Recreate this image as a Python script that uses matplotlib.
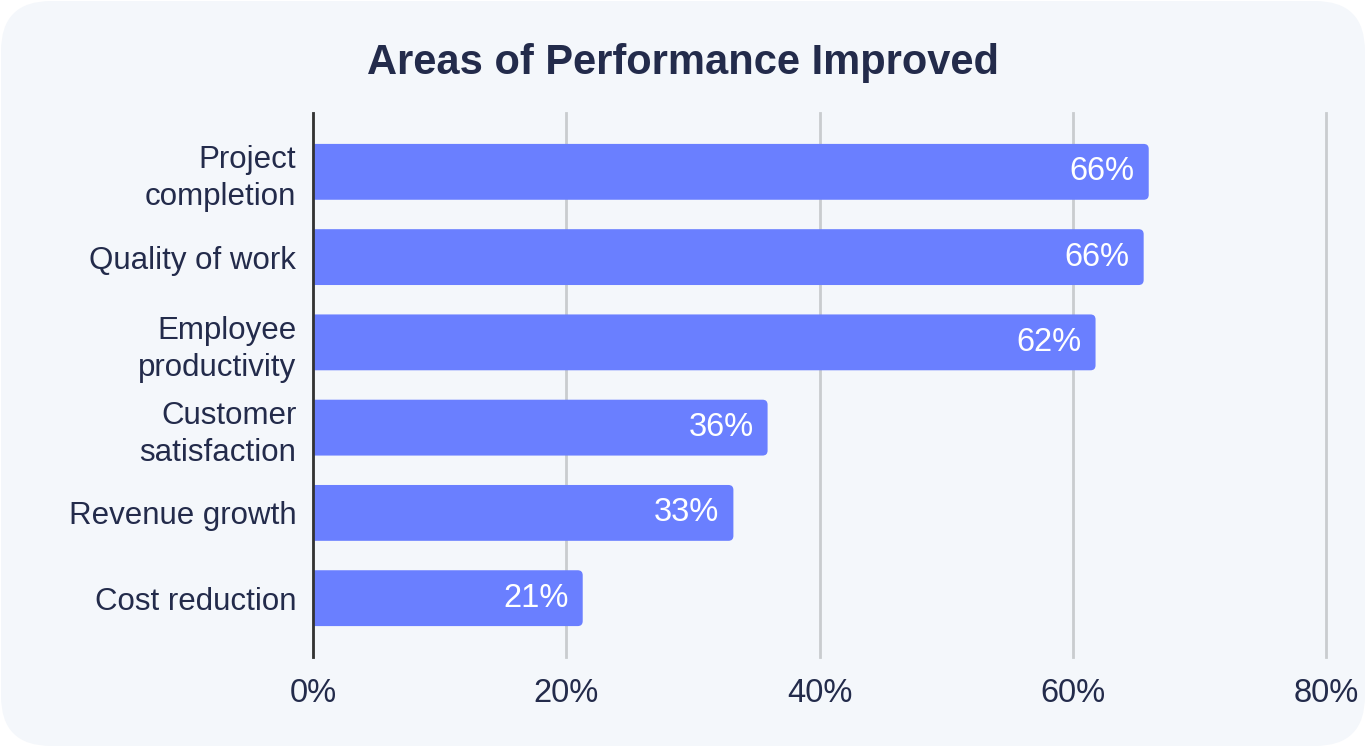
import matplotlib.pyplot as plt
from matplotlib.patches import FancyBboxPatch
import numpy as np

# data
categories = ['Project\ncompletion', 'Quality of work', 'Employee\nproductivity',
              'Customer\nsatisfaction', 'Revenue growth', 'Cost reduction']
values = [66.0, 65.6, 61.8, 35.9, 33.2, 21.3]
labels = ['66%', '66%', '62%', '36%', '33%', '21%']
ticks = [0, 20, 40, 60, 80]

navy = '#232B4B'
bar_color = '#6A7FFF'
bg = '#F4F7FB'

plt.rcParams['font.family'] = ['Liberation Sans', 'DejaVu Sans']

fig = plt.figure(figsize=(13.66, 7.47), dpi=100)
fig.patch.set_facecolor('white')

# rounded panel behind everything
W, H = 1366, 747
panel = FancyBboxPatch((1 / W, 1 / H), 1 - 2 / W, 1 - 2 / H,
                       boxstyle='round,pad=0,rounding_size=%f' % (50 / W),
                       mutation_aspect=W / H, transform=fig.transFigure,
                       facecolor=bg, edgecolor='none', zorder=-10)
fig.patches.append(panel)

ax = fig.add_axes([313 / W, 1 - 657 / H, (1326 - 313) / W, (657 - 113) / H])
ax.set_facecolor('none')

y = np.arange(len(categories))
ax.set_xlim(0, 80)
ax.set_ylim(len(categories) - 1 + 0.69, -0.69)

# bar geometry in pixels -> rounding in data units
px_x = (1326 - 313) / 80.0
px_y = (657 - 113) / (len(categories) - 1 + 1.38)
h = 0.655
r = 5 / px_x
for yi, v, lab in zip(y, values, labels):
    p = FancyBboxPatch((-2, yi - h / 2), v + 2, h,
                       boxstyle='round,pad=0,rounding_size=%f' % r,
                       mutation_aspect=px_x / px_y,
                       facecolor=bar_color, edgecolor='none', zorder=3)
    ax.add_patch(p)
    ax.text(v - 1.1, yi, lab, ha='right', va='center', color='white',
            fontsize=23.5, zorder=4)

ax.set_yticks(y)
ax.set_yticklabels(categories, fontsize=22.5, color=navy, linespacing=1.3)
ax.set_xticks(ticks)
ax.set_xticklabels([f'{t}%' for t in ticks], fontsize=23.5, color=navy)
ax.tick_params(axis='both', length=0)
ax.tick_params(axis='y', pad=12)
ax.tick_params(axis='x', pad=15)

ax.grid(axis='x', color='#C9CCCF', linewidth=2, zorder=0)
for gl in ax.get_xgridlines():
    gl.set_clip_on(False)
ax.set_axisbelow(True)
for s in ['top', 'right', 'bottom']:
    ax.spines[s].set_visible(False)
ax.spines['left'].set_color('#333333')
ax.spines['left'].set_linewidth(2)
ax.spines['left'].set_zorder(5)

fig.text(0.5, 1 - 63 / H, 'Areas of Performance Improved', ha='center', va='center',
         fontsize=30, fontweight='bold', color=navy)

fig.savefig('out.png', dpi=100, facecolor='white')
